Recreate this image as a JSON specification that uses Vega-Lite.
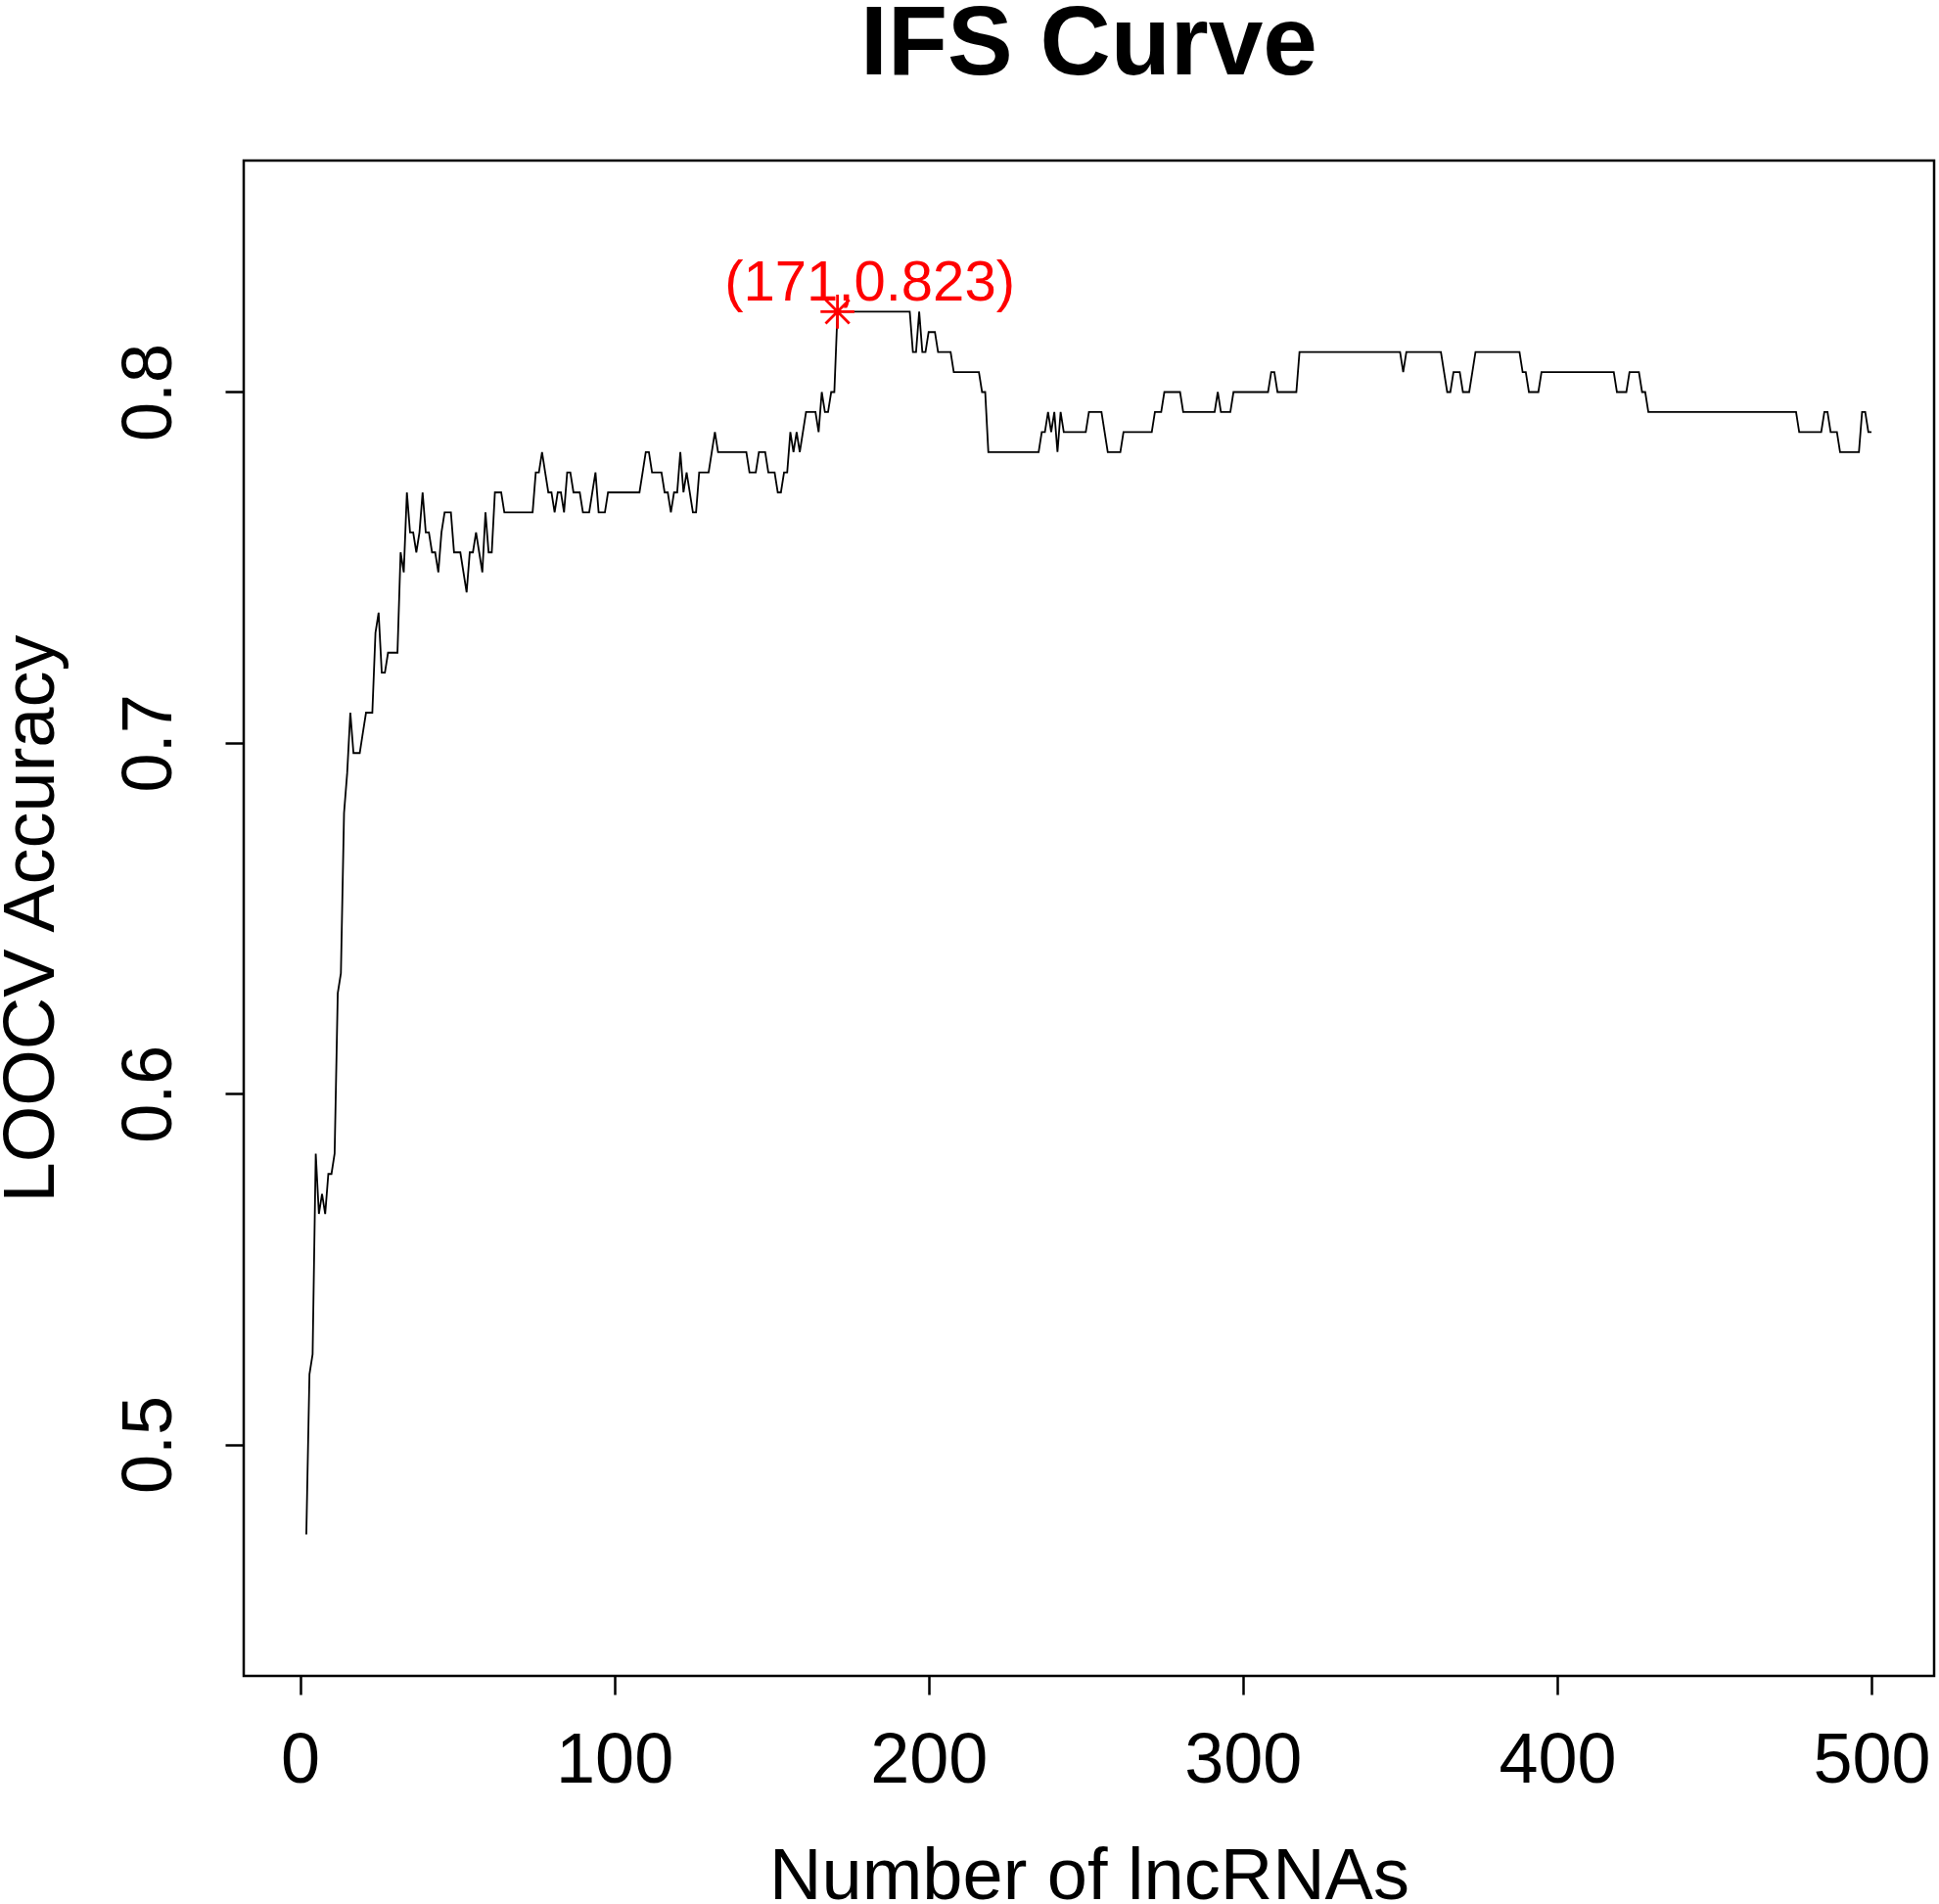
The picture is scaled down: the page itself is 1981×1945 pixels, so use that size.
{
 "$schema": "https://vega.github.io/schema/vega-lite/v6.json",
 "width": 1727,
 "height": 1548,
 "autosize": {"type": "none"},
 "padding": {"left": 249, "top": 164, "right": 5, "bottom": 233},
 "background": "white",
 "config": {"view": {"stroke": "black", "strokeWidth": 2.5}, "font": "Liberation Sans"},
 "title": {"text": "IFS Curve", "fontSize": 100, "fontWeight": "bold", "font": "Liberation Sans", "anchor": "middle", "frame": "group", "baseline": "alphabetic", "offset": 83, "dy": 95, "color": "black"},
 "datasets": {
  "curve": [
{"n":2,"acc":0.4743},{"n":3,"acc":0.52},{"n":4,"acc":0.5257},{"n":5,"acc":0.5829},{"n":6,"acc":0.5657},{"n":7,"acc":0.5714},{"n":8,"acc":0.5657},{"n":9,"acc":0.5771},{"n":10,"acc":0.5771},{"n":11,"acc":0.5829},
{"n":12,"acc":0.6286},{"n":13,"acc":0.6343},{"n":14,"acc":0.68},{"n":15,"acc":0.6914},{"n":16,"acc":0.7086},{"n":17,"acc":0.6971},{"n":18,"acc":0.6971},{"n":19,"acc":0.6971},{"n":20,"acc":0.7029},{"n":21,"acc":0.7086},
{"n":22,"acc":0.7086},{"n":23,"acc":0.7086},{"n":24,"acc":0.7314},{"n":25,"acc":0.7371},{"n":26,"acc":0.72},{"n":27,"acc":0.72},{"n":28,"acc":0.7257},{"n":29,"acc":0.7257},{"n":30,"acc":0.7257},{"n":31,"acc":0.7257},
{"n":32,"acc":0.7543},{"n":33,"acc":0.7486},{"n":34,"acc":0.7714},{"n":35,"acc":0.76},{"n":36,"acc":0.76},{"n":37,"acc":0.7543},{"n":38,"acc":0.76},{"n":39,"acc":0.7714},{"n":40,"acc":0.76},{"n":41,"acc":0.76},
{"n":42,"acc":0.7543},{"n":43,"acc":0.7543},{"n":44,"acc":0.7486},{"n":45,"acc":0.76},{"n":46,"acc":0.7657},{"n":47,"acc":0.7657},{"n":48,"acc":0.7657},{"n":49,"acc":0.7543},{"n":50,"acc":0.7543},{"n":51,"acc":0.7543},
{"n":52,"acc":0.7486},{"n":53,"acc":0.7429},{"n":54,"acc":0.7543},{"n":55,"acc":0.7543},{"n":56,"acc":0.76},{"n":57,"acc":0.7543},{"n":58,"acc":0.7486},{"n":59,"acc":0.7657},{"n":60,"acc":0.7543},{"n":61,"acc":0.7543},
{"n":62,"acc":0.7714},{"n":63,"acc":0.7714},{"n":64,"acc":0.7714},{"n":65,"acc":0.7657},{"n":66,"acc":0.7657},{"n":67,"acc":0.7657},{"n":68,"acc":0.7657},{"n":69,"acc":0.7657},{"n":70,"acc":0.7657},{"n":71,"acc":0.7657},
{"n":72,"acc":0.7657},{"n":73,"acc":0.7657},{"n":74,"acc":0.7657},{"n":75,"acc":0.7771},{"n":76,"acc":0.7771},{"n":77,"acc":0.7829},{"n":78,"acc":0.7771},{"n":79,"acc":0.7714},{"n":80,"acc":0.7714},{"n":81,"acc":0.7657},
{"n":82,"acc":0.7714},{"n":83,"acc":0.7714},{"n":84,"acc":0.7657},{"n":85,"acc":0.7771},{"n":86,"acc":0.7771},{"n":87,"acc":0.7714},{"n":88,"acc":0.7714},{"n":89,"acc":0.7714},{"n":90,"acc":0.7657},{"n":91,"acc":0.7657},
{"n":92,"acc":0.7657},{"n":93,"acc":0.7714},{"n":94,"acc":0.7771},{"n":95,"acc":0.7657},{"n":96,"acc":0.7657},{"n":97,"acc":0.7657},{"n":98,"acc":0.7714},{"n":99,"acc":0.7714},{"n":100,"acc":0.7714},{"n":101,"acc":0.7714},
{"n":102,"acc":0.7714},{"n":103,"acc":0.7714},{"n":104,"acc":0.7714},{"n":105,"acc":0.7714},{"n":106,"acc":0.7714},{"n":107,"acc":0.7714},{"n":108,"acc":0.7714},{"n":109,"acc":0.7771},{"n":110,"acc":0.7829},{"n":111,"acc":0.7829},
{"n":112,"acc":0.7771},{"n":113,"acc":0.7771},{"n":114,"acc":0.7771},{"n":115,"acc":0.7771},{"n":116,"acc":0.7714},{"n":117,"acc":0.7714},{"n":118,"acc":0.7657},{"n":119,"acc":0.7714},{"n":120,"acc":0.7714},{"n":121,"acc":0.7829},
{"n":122,"acc":0.7714},{"n":123,"acc":0.7771},{"n":124,"acc":0.7714},{"n":125,"acc":0.7657},{"n":126,"acc":0.7657},{"n":127,"acc":0.7771},{"n":128,"acc":0.7771},{"n":129,"acc":0.7771},{"n":130,"acc":0.7771},{"n":131,"acc":0.7829},
{"n":132,"acc":0.7886},{"n":133,"acc":0.7829},{"n":134,"acc":0.7829},{"n":135,"acc":0.7829},{"n":136,"acc":0.7829},{"n":137,"acc":0.7829},{"n":138,"acc":0.7829},{"n":139,"acc":0.7829},{"n":140,"acc":0.7829},{"n":141,"acc":0.7829},
{"n":142,"acc":0.7829},{"n":143,"acc":0.7771},{"n":144,"acc":0.7771},{"n":145,"acc":0.7771},{"n":146,"acc":0.7829},{"n":147,"acc":0.7829},{"n":148,"acc":0.7829},{"n":149,"acc":0.7771},{"n":150,"acc":0.7771},{"n":151,"acc":0.7771},
{"n":152,"acc":0.7714},{"n":153,"acc":0.7714},{"n":154,"acc":0.7771},{"n":155,"acc":0.7771},{"n":156,"acc":0.7886},{"n":157,"acc":0.7829},{"n":158,"acc":0.7886},{"n":159,"acc":0.7829},{"n":160,"acc":0.7886},{"n":161,"acc":0.7943},
{"n":162,"acc":0.7943},{"n":163,"acc":0.7943},{"n":164,"acc":0.7943},{"n":165,"acc":0.7886},{"n":166,"acc":0.8},{"n":167,"acc":0.7943},{"n":168,"acc":0.7943},{"n":169,"acc":0.8},{"n":170,"acc":0.8},{"n":171,"acc":0.8229},
{"n":172,"acc":0.8229},{"n":173,"acc":0.8229},{"n":174,"acc":0.8229},{"n":175,"acc":0.8229},{"n":176,"acc":0.8229},{"n":177,"acc":0.8229},{"n":178,"acc":0.8229},{"n":179,"acc":0.8229},{"n":180,"acc":0.8229},{"n":181,"acc":0.8229},
{"n":182,"acc":0.8229},{"n":183,"acc":0.8229},{"n":184,"acc":0.8229},{"n":185,"acc":0.8229},{"n":186,"acc":0.8229},{"n":187,"acc":0.8229},{"n":188,"acc":0.8229},{"n":189,"acc":0.8229},{"n":190,"acc":0.8229},{"n":191,"acc":0.8229},
{"n":192,"acc":0.8229},{"n":193,"acc":0.8229},{"n":194,"acc":0.8229},{"n":195,"acc":0.8114},{"n":196,"acc":0.8114},{"n":197,"acc":0.8229},{"n":198,"acc":0.8114},{"n":199,"acc":0.8114},{"n":200,"acc":0.8171},{"n":201,"acc":0.8171},
{"n":202,"acc":0.8171},{"n":203,"acc":0.8114},{"n":204,"acc":0.8114},{"n":205,"acc":0.8114},{"n":206,"acc":0.8114},{"n":207,"acc":0.8114},{"n":208,"acc":0.8057},{"n":209,"acc":0.8057},{"n":210,"acc":0.8057},{"n":211,"acc":0.8057},
{"n":212,"acc":0.8057},{"n":213,"acc":0.8057},{"n":214,"acc":0.8057},{"n":215,"acc":0.8057},{"n":216,"acc":0.8057},{"n":217,"acc":0.8},{"n":218,"acc":0.8},{"n":219,"acc":0.7829},{"n":220,"acc":0.7829},{"n":221,"acc":0.7829},
{"n":222,"acc":0.7829},{"n":223,"acc":0.7829},{"n":224,"acc":0.7829},{"n":225,"acc":0.7829},{"n":226,"acc":0.7829},{"n":227,"acc":0.7829},{"n":228,"acc":0.7829},{"n":229,"acc":0.7829},{"n":230,"acc":0.7829},{"n":231,"acc":0.7829},
{"n":232,"acc":0.7829},{"n":233,"acc":0.7829},{"n":234,"acc":0.7829},{"n":235,"acc":0.7829},{"n":236,"acc":0.7886},{"n":237,"acc":0.7886},{"n":238,"acc":0.7943},{"n":239,"acc":0.7886},{"n":240,"acc":0.7943},{"n":241,"acc":0.7829},
{"n":242,"acc":0.7943},{"n":243,"acc":0.7886},{"n":244,"acc":0.7886},{"n":245,"acc":0.7886},{"n":246,"acc":0.7886},{"n":247,"acc":0.7886},{"n":248,"acc":0.7886},{"n":249,"acc":0.7886},{"n":250,"acc":0.7886},{"n":251,"acc":0.7943},
{"n":252,"acc":0.7943},{"n":253,"acc":0.7943},{"n":254,"acc":0.7943},{"n":255,"acc":0.7943},{"n":256,"acc":0.7886},{"n":257,"acc":0.7829},{"n":258,"acc":0.7829},{"n":259,"acc":0.7829},{"n":260,"acc":0.7829},{"n":261,"acc":0.7829},
{"n":262,"acc":0.7886},{"n":263,"acc":0.7886},{"n":264,"acc":0.7886},{"n":265,"acc":0.7886},{"n":266,"acc":0.7886},{"n":267,"acc":0.7886},{"n":268,"acc":0.7886},{"n":269,"acc":0.7886},{"n":270,"acc":0.7886},{"n":271,"acc":0.7886},
{"n":272,"acc":0.7943},{"n":273,"acc":0.7943},{"n":274,"acc":0.7943},{"n":275,"acc":0.8},{"n":276,"acc":0.8},{"n":277,"acc":0.8},{"n":278,"acc":0.8},{"n":279,"acc":0.8},{"n":280,"acc":0.8},{"n":281,"acc":0.7943},
{"n":282,"acc":0.7943},{"n":283,"acc":0.7943},{"n":284,"acc":0.7943},{"n":285,"acc":0.7943},{"n":286,"acc":0.7943},{"n":287,"acc":0.7943},{"n":288,"acc":0.7943},{"n":289,"acc":0.7943},{"n":290,"acc":0.7943},{"n":291,"acc":0.7943},
{"n":292,"acc":0.8},{"n":293,"acc":0.7943},{"n":294,"acc":0.7943},{"n":295,"acc":0.7943},{"n":296,"acc":0.7943},{"n":297,"acc":0.8},{"n":298,"acc":0.8},{"n":299,"acc":0.8},{"n":300,"acc":0.8},{"n":301,"acc":0.8},
{"n":302,"acc":0.8},{"n":303,"acc":0.8},{"n":304,"acc":0.8},{"n":305,"acc":0.8},{"n":306,"acc":0.8},{"n":307,"acc":0.8},{"n":308,"acc":0.8},{"n":309,"acc":0.8057},{"n":310,"acc":0.8057},{"n":311,"acc":0.8},
{"n":312,"acc":0.8},{"n":313,"acc":0.8},{"n":314,"acc":0.8},{"n":315,"acc":0.8},{"n":316,"acc":0.8},{"n":317,"acc":0.8},{"n":318,"acc":0.8114},{"n":319,"acc":0.8114},{"n":320,"acc":0.8114},{"n":321,"acc":0.8114},
{"n":322,"acc":0.8114},{"n":323,"acc":0.8114},{"n":324,"acc":0.8114},{"n":325,"acc":0.8114},{"n":326,"acc":0.8114},{"n":327,"acc":0.8114},{"n":328,"acc":0.8114},{"n":329,"acc":0.8114},{"n":330,"acc":0.8114},{"n":331,"acc":0.8114},
{"n":332,"acc":0.8114},{"n":333,"acc":0.8114},{"n":334,"acc":0.8114},{"n":335,"acc":0.8114},{"n":336,"acc":0.8114},{"n":337,"acc":0.8114},{"n":338,"acc":0.8114},{"n":339,"acc":0.8114},{"n":340,"acc":0.8114},{"n":341,"acc":0.8114},
{"n":342,"acc":0.8114},{"n":343,"acc":0.8114},{"n":344,"acc":0.8114},{"n":345,"acc":0.8114},{"n":346,"acc":0.8114},{"n":347,"acc":0.8114},{"n":348,"acc":0.8114},{"n":349,"acc":0.8114},{"n":350,"acc":0.8114},{"n":351,"acc":0.8057},
{"n":352,"acc":0.8114},{"n":353,"acc":0.8114},{"n":354,"acc":0.8114},{"n":355,"acc":0.8114},{"n":356,"acc":0.8114},{"n":357,"acc":0.8114},{"n":358,"acc":0.8114},{"n":359,"acc":0.8114},{"n":360,"acc":0.8114},{"n":361,"acc":0.8114},
{"n":362,"acc":0.8114},{"n":363,"acc":0.8114},{"n":364,"acc":0.8057},{"n":365,"acc":0.8},{"n":366,"acc":0.8},{"n":367,"acc":0.8057},{"n":368,"acc":0.8057},{"n":369,"acc":0.8057},{"n":370,"acc":0.8},{"n":371,"acc":0.8},
{"n":372,"acc":0.8},{"n":373,"acc":0.8057},{"n":374,"acc":0.8114},{"n":375,"acc":0.8114},{"n":376,"acc":0.8114},{"n":377,"acc":0.8114},{"n":378,"acc":0.8114},{"n":379,"acc":0.8114},{"n":380,"acc":0.8114},{"n":381,"acc":0.8114},
{"n":382,"acc":0.8114},{"n":383,"acc":0.8114},{"n":384,"acc":0.8114},{"n":385,"acc":0.8114},{"n":386,"acc":0.8114},{"n":387,"acc":0.8114},{"n":388,"acc":0.8114},{"n":389,"acc":0.8057},{"n":390,"acc":0.8057},{"n":391,"acc":0.8},
{"n":392,"acc":0.8},{"n":393,"acc":0.8},{"n":394,"acc":0.8},{"n":395,"acc":0.8057},{"n":396,"acc":0.8057},{"n":397,"acc":0.8057},{"n":398,"acc":0.8057},{"n":399,"acc":0.8057},{"n":400,"acc":0.8057},{"n":401,"acc":0.8057},
{"n":402,"acc":0.8057},{"n":403,"acc":0.8057},{"n":404,"acc":0.8057},{"n":405,"acc":0.8057},{"n":406,"acc":0.8057},{"n":407,"acc":0.8057},{"n":408,"acc":0.8057},{"n":409,"acc":0.8057},{"n":410,"acc":0.8057},{"n":411,"acc":0.8057},
{"n":412,"acc":0.8057},{"n":413,"acc":0.8057},{"n":414,"acc":0.8057},{"n":415,"acc":0.8057},{"n":416,"acc":0.8057},{"n":417,"acc":0.8057},{"n":418,"acc":0.8057},{"n":419,"acc":0.8},{"n":420,"acc":0.8},{"n":421,"acc":0.8},
{"n":422,"acc":0.8},{"n":423,"acc":0.8057},{"n":424,"acc":0.8057},{"n":425,"acc":0.8057},{"n":426,"acc":0.8057},{"n":427,"acc":0.8},{"n":428,"acc":0.8},{"n":429,"acc":0.7943},{"n":430,"acc":0.7943},{"n":431,"acc":0.7943},
{"n":432,"acc":0.7943},{"n":433,"acc":0.7943},{"n":434,"acc":0.7943},{"n":435,"acc":0.7943},{"n":436,"acc":0.7943},{"n":437,"acc":0.7943},{"n":438,"acc":0.7943},{"n":439,"acc":0.7943},{"n":440,"acc":0.7943},{"n":441,"acc":0.7943},
{"n":442,"acc":0.7943},{"n":443,"acc":0.7943},{"n":444,"acc":0.7943},{"n":445,"acc":0.7943},{"n":446,"acc":0.7943},{"n":447,"acc":0.7943},{"n":448,"acc":0.7943},{"n":449,"acc":0.7943},{"n":450,"acc":0.7943},{"n":451,"acc":0.7943},
{"n":452,"acc":0.7943},{"n":453,"acc":0.7943},{"n":454,"acc":0.7943},{"n":455,"acc":0.7943},{"n":456,"acc":0.7943},{"n":457,"acc":0.7943},{"n":458,"acc":0.7943},{"n":459,"acc":0.7943},{"n":460,"acc":0.7943},{"n":461,"acc":0.7943},
{"n":462,"acc":0.7943},{"n":463,"acc":0.7943},{"n":464,"acc":0.7943},{"n":465,"acc":0.7943},{"n":466,"acc":0.7943},{"n":467,"acc":0.7943},{"n":468,"acc":0.7943},{"n":469,"acc":0.7943},{"n":470,"acc":0.7943},{"n":471,"acc":0.7943},
{"n":472,"acc":0.7943},{"n":473,"acc":0.7943},{"n":474,"acc":0.7943},{"n":475,"acc":0.7943},{"n":476,"acc":0.7943},{"n":477,"acc":0.7886},{"n":478,"acc":0.7886},{"n":479,"acc":0.7886},{"n":480,"acc":0.7886},{"n":481,"acc":0.7886},
{"n":482,"acc":0.7886},{"n":483,"acc":0.7886},{"n":484,"acc":0.7886},{"n":485,"acc":0.7943},{"n":486,"acc":0.7943},{"n":487,"acc":0.7886},{"n":488,"acc":0.7886},{"n":489,"acc":0.7886},{"n":490,"acc":0.7829},{"n":491,"acc":0.7829},
{"n":492,"acc":0.7829},{"n":493,"acc":0.7829},{"n":494,"acc":0.7829},{"n":495,"acc":0.7829},{"n":496,"acc":0.7829},{"n":497,"acc":0.7943},{"n":498,"acc":0.7943},{"n":499,"acc":0.7886},{"n":500,"acc":0.7886}
  ],
  "best": [{"n": 171, "acc": 0.8229, "label": "(171,0.823)"}]
 },
 "encoding": {
  "x": {"field": "n", "type": "quantitative",
   "scale": {"domain": [-17.92, 519.92], "nice": false, "zero": false},
   "axis": {"values": [0, 100, 200, 300, 400, 500], "format": "d", "title": "Number of lncRNAs", "grid": false, "domain": false,
    "tickColor": "black", "tickWidth": 2.5, "tickSize": 19, "labelFontSize": 72, "labelColor": "black", "labelFont": "Liberation Sans",
    "labelPadding": 32, "labelFlush": false, "labelOverlap": false,
    "titleFontSize": 74, "titleFontWeight": "normal", "titleColor": "black", "titleFont": "Liberation Sans",
    "titleBaseline": "alphabetic", "titleAlign": "center", "titleX": 863.5, "titleY": 227}},
  "y": {"field": "acc", "type": "quantitative",
   "scale": {"domain": [0.434, 0.866], "nice": false, "zero": false},
   "axis": {"values": [0.5, 0.6, 0.7, 0.8], "format": ".1f", "title": "LOOCV Accuracy", "grid": false, "domain": false,
    "tickColor": "black", "tickWidth": 2.5, "tickSize": 19, "labelFontSize": 72, "labelColor": "black", "labelFont": "Liberation Sans",
    "labelAngle": 270, "labelAlign": "center", "labelBaseline": "alphabetic", "labelPadding": 56, "labelFlush": false, "labelOverlap": false,
    "titleFontSize": 74, "titleFontWeight": "normal", "titleColor": "black", "titleFont": "Liberation Sans",
    "titleAngle": 270, "titleBaseline": "alphabetic", "titleAlign": "center", "titleX": -195, "titleY": 774}}
 },
 "layer": [
  {"data": {"name": "curve"}, "mark": {"type": "line", "color": "black", "strokeWidth": 1.8}},
  {"data": {"name": "best"}, "mark": {"type": "point", "shape": "M-1,0L1,0M0,-1L0,1M-0.7,-0.7L0.7,0.7M-0.7,0.7L0.7,-0.7", "size": 1200, "stroke": "red", "strokeWidth": 2.8, "filled": false, "opacity": 1}},
  {"data": {"name": "best"}, "mark": {"type": "text", "color": "red", "fontSize": 58, "font": "Liberation Sans", "dx": 33, "dy": -11, "baseline": "alphabetic", "align": "center"},
   "encoding": {"text": {"field": "label"}}}
 ]
}
